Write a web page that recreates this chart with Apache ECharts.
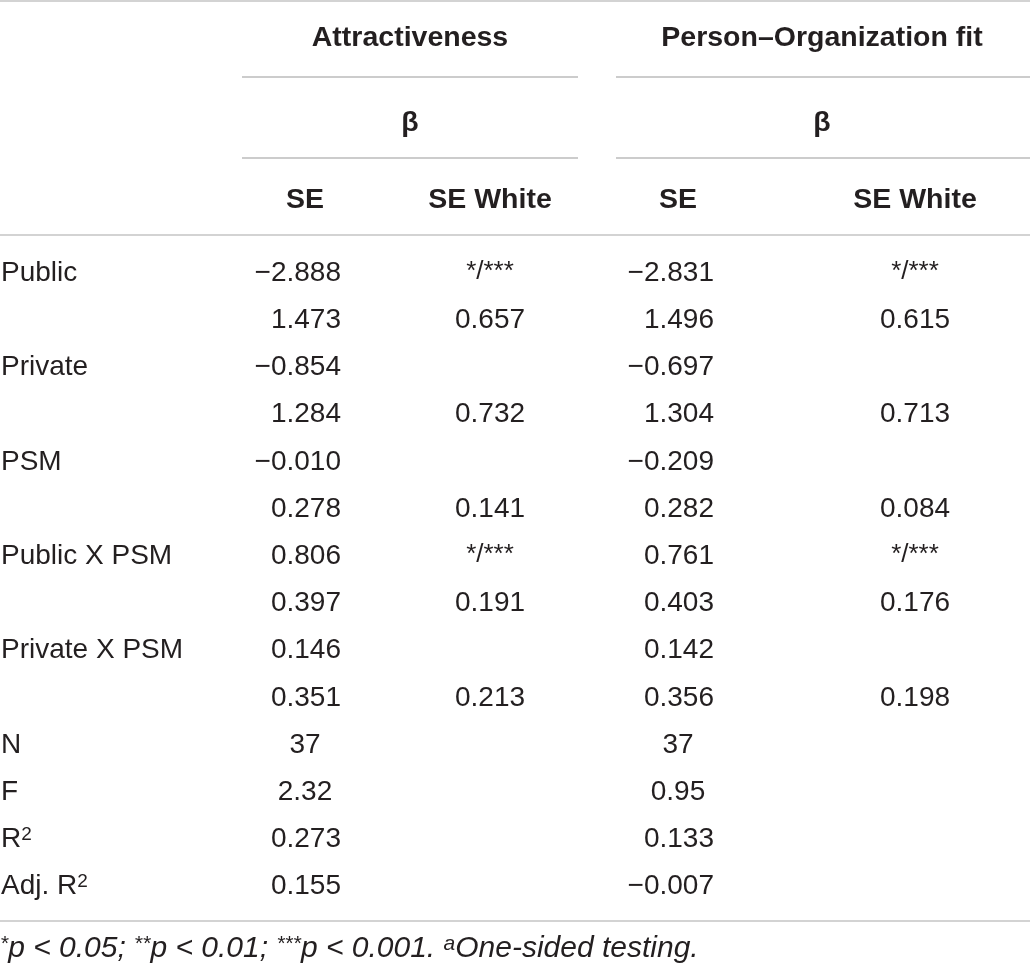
<!DOCTYPE html>
<html>
<head>
<meta charset="utf-8">
<script src="https://cdn.jsdelivr.net/npm/echarts@6/dist/echarts.min.js"></script>
<style>
html, body { margin: 0; padding: 0; background: #fff; }
#main { width: 1030px; height: 966px; }
</style>
</head>
<body>
<div id="main"></div>
<script>
// 表格数据
var rowLabels = ['Public', '', 'Private', '', 'PSM', '', 'Public X PSM', '', 'Private X PSM', '', 'N', 'F', 'R{sup|2}', 'Adj. R{sup|2}'];
var attrSE    = ['\u22122.888', '1.473', '\u22120.854', '1.284', '\u22120.010', '0.278', '0.806', '0.397', '0.146', '0.351', '37', '2.32', '0.273', '0.155'];
var attrWhite = ['*/***', '0.657', '', '0.732', '', '0.141', '*/***', '0.191', '', '0.213', '', '', '', ''];
var fitSE     = ['\u22122.831', '1.496', '\u22120.697', '1.304', '\u22120.209', '0.282', '0.761', '0.403', '0.142', '0.356', '37', '0.95', '0.133', '\u22120.007'];
var fitWhite  = ['*/***', '0.615', '', '0.713', '', '0.084', '*/***', '0.176', '', '0.198', '', '', '', ''];
var groupTitles = ['Attractiveness', 'Person\u2013Organization fit'];
var subTitles = ['SE', 'SE White', 'SE', 'SE White'];
var footnote = '{s|*}{t|p < 0.05; }{s|**}{t|p < 0.01; }{s|***}{t|p < 0.001. }{s|a}{t|One-sided testing.}';

// 版面位置
var FONT = '"Liberation Sans", Arial, sans-serif';
var INK = '#231f20';
var rowTop = 273, rowStep = 47.2;
var colRight = [341, 714];      // 数字右对齐
var colCenter = [305, 678];     // N / F 居中
var whiteCenter = [490, 915];
var groupCenter = [410, 822];
var groupSpan = [[242, 578], [616, 1030]];

var myChart = echarts.init(document.getElementById('main'));

function cell(x, y, text, align, extra) {
    var lab = { align: align };
    if (extra) for (var k in extra) lab[k] = extra[k];
    return { name: text, value: [x, y], label: lab };
}

var cells = [];
var bold = { fontWeight: 'bold', fontSize: 28.5 };
// 表头
for (var g = 0; g < 2; g++) {
    cells.push(cell(groupCenter[g], 38, groupTitles[g], 'center', bold));
    cells.push(cell(groupCenter[g], 123, '\u03b2', 'center', bold));
}
var subX = [305, 490, 678, 915];
for (var s = 0; s < 4; s++) {
    cells.push(cell(subX[s], 200, subTitles[s], 'center', bold));
}
// 数据行
for (var i = 0; i < rowLabels.length; i++) {
    var y = rowTop + i * rowStep;
    if (rowLabels[i]) cells.push(cell(1, y, rowLabels[i], 'left'));
    var cols = [attrSE, fitSE];
    var whites = [attrWhite, fitWhite];
    for (var c = 0; c < 2; c++) {
        var v = cols[c][i];
        if (v.indexOf('.') < 0 || v.length <= 4) {
            cells.push(cell(colCenter[c], y, v, 'center'));
        } else {
            cells.push(cell(colRight[c], y, v, 'right'));
        }
        var w = whites[c][i];
        if (w === '*/***') {
            cells.push(cell(whiteCenter[c], y - 1, w, 'center', { fontSize: 26 }));
        } else if (w) {
            cells.push(cell(whiteCenter[c], y, w, 'center'));
        }
    }
}
cells.push(cell(0, 949, footnote, 'left'));

// 横线
var rules = [
    { coords: [[0, 1], [1030, 1]], lineStyle: { color: '#a8a8a8', width: 2 } },
    { coords: [[0, 235], [1030, 235]], lineStyle: { color: '#a8a8a8', width: 2 } },
    { coords: [[0, 921], [1030, 921]], lineStyle: { color: '#a8a8a8', width: 2 } }
];
for (var g2 = 0; g2 < 2; g2++) {
    rules.push({ coords: [[groupSpan[g2][0], 77], [groupSpan[g2][1], 77]], lineStyle: { color: '#7a7a7a', width: 1.5 } });
    rules.push({ coords: [[groupSpan[g2][0], 158], [groupSpan[g2][1], 158]], lineStyle: { color: '#7a7a7a', width: 1.5 } });
}

var option = {
    animation: false,
    backgroundColor: '#fff',
    grid: { left: 0, right: 0, top: 0, bottom: 0 },
    xAxis: { type: 'value', min: 0, max: 1030, show: false },
    yAxis: { type: 'value', min: 0, max: 966, inverse: true, show: false },
    series: [{
        type: 'lines',
        coordinateSystem: 'cartesian2d',
        silent: true,
        data: rules
    }, {
        type: 'scatter',
        silent: true,
        symbolSize: 0,
        itemStyle: { color: 'rgba(0,0,0,0)', opacity: 1 },
        label: {
            show: true,
            opacity: 1,
            position: 'inside',
            verticalAlign: 'middle',
            color: INK,
            textBorderWidth: 0,
            fontFamily: FONT,
            fontSize: 28,
            formatter: '{b}',
            rich: {
                sup: { fontSize: 19, verticalAlign: 'top', fontFamily: FONT, color: INK },
                s: { fontSize: 21, verticalAlign: 'top', fontStyle: 'italic', fontFamily: FONT, color: INK },
                t: { fontSize: 30, fontStyle: 'italic', fontFamily: FONT, color: INK }
            }
        },
        data: cells
    }]
};
myChart.setOption(option);
</script>
</body>
</html>
